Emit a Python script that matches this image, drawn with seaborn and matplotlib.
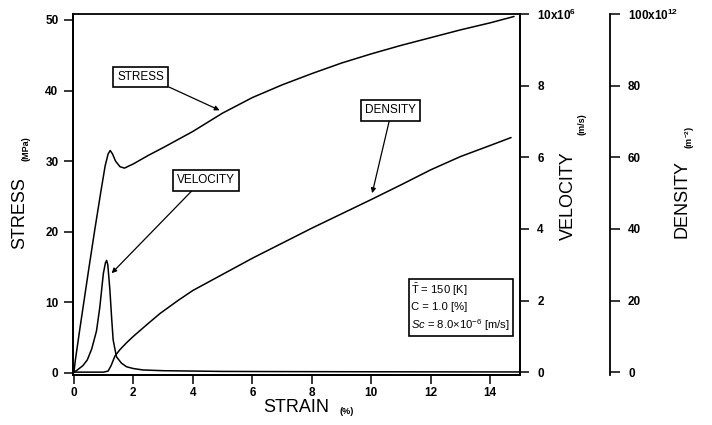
import numpy as np
import pandas as pd
import matplotlib
matplotlib.use("Agg")
import matplotlib.pyplot as plt
import seaborn as sns

# ---------------- data ----------------
strain_s = [0, 0.05, 0.2, 0.5, 0.7, 0.9, 1.05, 1.15, 1.22, 1.3, 1.4, 1.55, 1.7, 2.0, 2.5,
            3.0, 4.0, 5.0, 6.0, 7.0, 8.0, 9.0, 10.0, 11.0, 12.0, 13.0, 14.0, 14.8]
stress = [0, 1.8, 6.2, 14.7, 20.2, 25.5, 29.3, 31.0, 31.5, 31.0, 30.0, 29.2, 29.0, 29.6, 30.8,
          31.9, 34.2, 36.8, 39.0, 40.8, 42.4, 43.9, 45.2, 46.4, 47.5, 48.6, 49.6, 50.5]

strain_v = [0, 0.1, 0.3, 0.45, 0.6, 0.76, 0.87, 0.99, 1.06, 1.10, 1.14, 1.21, 1.27, 1.32, 1.43,
            1.6, 1.77, 2.0, 2.33, 3.0, 4.0, 5.0, 7.0, 10.0, 15.0]
velocity = [0, 0.05, 0.18, 0.34, 0.65, 1.15, 1.8, 2.75, 3.05, 3.12, 3.0, 2.3, 1.5, 0.9, 0.43,
            0.25, 0.15, 0.1, 0.06, 0.04, 0.03, 0.02, 0.015, 0.01, 0.005]

strain_d = [0, 1.0, 1.15, 1.25, 1.38, 1.55, 1.77, 2.0, 2.5, 2.9, 3.5, 4.0, 5.0, 6.0, 7.0,
            8.0, 9.0, 10.0, 11.0, 12.0, 13.0, 14.0, 14.7]
density = [0, 0, 0.3, 1.8, 4.5, 6.3, 8.2, 10.0, 13.6, 16.4, 20.0, 22.8, 27.3, 31.8, 36.0,
           40.2, 44.2, 48.2, 52.3, 56.5, 60.2, 63.3, 65.5]

x_ticks = [0, 2, 4, 6, 8, 10, 12, 14]
stress_ticks = [0, 10, 20, 30, 40, 50]
vel_ticks = [0, 2, 4, 6, 8, 10]
vel_labels = ["0", "2", "4", "6", "8", r"10x10$^{\mathregular{6}}$"]
den_ticks = [0, 20, 40, 60, 80, 100]
den_labels = ["0", "20", "40", "60", "80", r"100x10$^{\mathregular{12}}$"]

info_lines = [r"$\mathregular{\bar{T}}$ = 150 [K]", "C = 1.0 [%]",
              r"$Sc$ = $\mathit{8.0{\times}10^{-6}}$ [m/s]"]

# ---------------- style ----------------
sns.set_style("ticks")
plt.rcParams["font.family"] = ["Liberation Sans", "DejaVu Sans"]
plt.rcParams["mathtext.fontset"] = "custom"
plt.rcParams["mathtext.rm"] = "Liberation Sans"
plt.rcParams["mathtext.it"] = "Liberation Sans:italic"
plt.rcParams["mathtext.bf"] = "Liberation Sans:bold"
for key in ["text.color", "axes.labelcolor", "xtick.color", "ytick.color", "axes.edgecolor"]:
    plt.rcParams[key] = "black"

W, H = 712, 425
fig = plt.figure(figsize=(W / 100, H / 100), dpi=100)
ax = fig.add_axes([73 / W, 1 - 375 / H, 447 / W, 361 / H])
ax2 = ax.twinx()
ax3 = ax.twinx()

df_s = pd.DataFrame({"strain": strain_s, "val": stress})
df_v = pd.DataFrame({"strain": strain_v, "val": velocity})
df_d = pd.DataFrame({"strain": strain_d, "val": density})

lw = 1.1
sns.lineplot(data=df_s, x="strain", y="val", ax=ax, color="black", lw=lw)
sns.lineplot(data=df_v, x="strain", y="val", ax=ax2, color="black", lw=lw)
sns.lineplot(data=df_d, x="strain", y="val", ax=ax3, color="black", lw=lw)

ax.set_xlim(-0.03, 15.0)
ax.set_ylim(-0.33, 50.85)
ax2.set_ylim(-0.08, 10.0)
ax3.set_ylim(-0.8, 100.0)

for a in (ax, ax2, ax3):
    a.set_xlabel("")
    a.set_ylabel("")
    for sp in a.spines.values():
        sp.set_linewidth(1.3)
        sp.set_color("black")

ax.spines["right"].set_visible(True)
ax.spines["top"].set_visible(True)
ax3.spines["right"].set_position(("outward", 64.8))
ax3.spines["left"].set_visible(False)
ax3.spines["top"].set_visible(False)
ax3.spines["bottom"].set_visible(False)
ax2.spines["top"].set_visible(False)

tick_font = dict(fontsize=8.5, fontweight="bold")
ax.set_xticks(x_ticks)
ax.set_xticklabels([str(t) for t in x_ticks], **tick_font)
ax.set_yticks(stress_ticks)
ax.set_yticklabels([str(t) for t in stress_ticks], **tick_font)
ax2.set_yticks(vel_ticks)
ax2.set_yticklabels(vel_labels, **tick_font)
ax3.set_yticks(den_ticks)
ax3.set_yticklabels(den_labels, **tick_font)

ax.tick_params(axis="y", direction="out", length=6.5, width=1.1, pad=4)
ax.tick_params(axis="x", direction="out", length=6.5, width=1.1, pad=2)
ax2.tick_params(axis="y", direction="out", length=6.5, width=1.1, pad=6)
ax3.tick_params(axis="y", direction="out", length=7, width=1.1, pad=6)

# ---------------- axis titles ----------------
def ftext(px, py, s, **kw):
    fig.text(px / W, 1 - py / H, s, ha="center", va="center", **kw)

big = dict(fontsize=13)
small = dict(fontsize=6.5, fontweight="bold")
ftext(20, 213, "STRESS", rotation=90, **big)
ftext(26, 149, "(MPa)", rotation=90, **small)
ftext(296, 407, "STRAIN", **big)
ftext(347, 412, "(%)", **small)
ftext(568, 196, "VELOCITY", rotation=90, **big)
ftext(582, 124, "(m/s)", rotation=90, **small)
ftext(682, 199, "DENSITY", rotation=90, **big)
ftext(690, 137, r"(m$^{\mathregular{-2}}$)", rotation=90, **small)

# ---------------- annotations ----------------
box = dict(boxstyle="square,pad=0.35", fc="white", ec="black", lw=1.2)

def label(text, xy, xytext, relpos):
    ax.annotate(text, xy=xy, xycoords="data", xytext=xytext, textcoords="axes fraction",
                ha="center", va="center", fontsize=8.5, bbox=box,
                arrowprops=dict(arrowstyle="-|>", color="black", lw=0.9,
                                mutation_scale=7, relpos=relpos, shrinkA=0, shrinkB=0),
                zorder=10)

label("STRESS", (4.9, 37.2), (0.152, 0.825), (0.92, 0.0))
label("VELOCITY", (1.27, 14.1), (0.2975, 0.539), (0.33, 0.0))
label("DENSITY", (10.03, 25.45), (0.711, 0.733), (0.49, 0.0))

ax.text(0.757, 0.258, "\n".join(info_lines), transform=ax.transAxes, ha="left", va="top",
        fontsize=8.1, linespacing=1.45,
        bbox=dict(boxstyle="square,pad=0.25", fc="white", ec="black", lw=1.2))

fig.savefig("out.png", dpi=100)
